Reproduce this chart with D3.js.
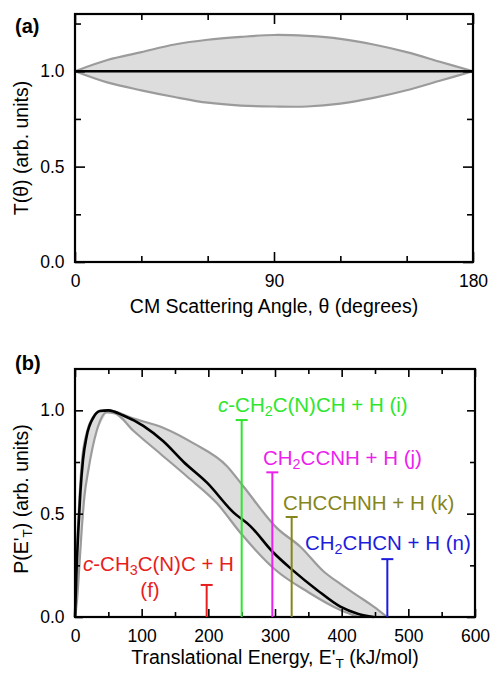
<!doctype html>
<html>
<head>
    <meta charset="utf-8" />
    <title></title>
    <style>
        body { margin: 0; background: #fff; }
        svg text { font-family: "Liberation Sans", Arial, sans-serif; }
    </style>
</head>
<body>
    <div id="chart"></div>

    <script src="https://cdnjs.cloudflare.com/ajax/libs/d3/7.8.5/d3.min.js"></script>
    <script>
        // (a) angular distribution T(theta)
        var thetaGrid = [0, 15, 30, 45, 60, 75, 90, 105, 120, 135, 150, 165, 180];
        var tBest     = [1, 1, 1, 1, 1, 1, 1, 1, 1, 1, 1, 1, 1];
        var tUpper    = [1.0, 1.06, 1.10, 1.14, 1.165, 1.18, 1.19, 1.185, 1.17, 1.14, 1.10, 1.05, 1.0];
        var tLower    = [1.0, 0.94, 0.90, 0.865, 0.835, 0.82, 0.815, 0.815, 0.83, 0.86, 0.90, 0.95, 1.0];
        var thetaTicks = [0, 90, 180];

        // (b) translational energy distribution P(E'T)
        var eBest = [0, 2, 5, 8, 12, 17.5, 27.5, 37.5, 50, 72.5, 102.5, 132.5, 163, 198, 238, 263, 296, 326, 363, 398, 425, 448];
        var pBest = [0, 0.2, 0.42, 0.6, 0.76, 0.875, 0.965, 0.997, 1.0, 0.975, 0.925, 0.85, 0.75, 0.65, 0.505, 0.44, 0.317, 0.228, 0.131, 0.05, 0.015, 0];
        var eUpper = [0, 2, 5, 10, 17.5, 27.5, 37.5, 50, 88, 133, 178, 228, 253, 303, 338, 373, 398, 423, 448, 468];
        var pUpper = [0, 0.25, 0.47, 0.74, 0.89, 0.97, 0.998, 1.0, 0.96, 0.915, 0.84, 0.73, 0.63, 0.43, 0.34, 0.22, 0.16, 0.105, 0.05, 0];
        var eLower = [0, 3, 6, 10, 14, 20, 32.5, 47.5, 60, 88, 128, 168, 213, 250, 300, 350, 398, 425];
        var pLower = [0, 0.08, 0.22, 0.42, 0.58, 0.71, 0.9, 0.99, 0.985, 0.9, 0.79, 0.68, 0.55, 0.40, 0.23, 0.12, 0.034, 0];
        var energyTicks = [0, 100, 200, 300, 400, 500, 600];

        // reaction exoergicities (channel limits)
        var chanName  = ["f", "i", "j", "k", "n"];
        var chanE     = [197.5, 250, 296, 325, 468.5];
        var chanP     = [0.155, 0.953, 0.70, 0.484, 0.28];
        var chanLabel = [
            [["c", "it"], ["-CH"], ["3", "sub"], ["C(N)C + H"]],
            [["c", "it"], ["-CH"], ["2", "sub"], ["C(N)CH + H (i)"]],
            [["CH"], ["2", "sub"], ["CCNH + H (j)"]],
            [["CHCCHNH + H (k)"]],
            [["CH"], ["2", "sub"], ["CHCN + H (n)"]]
        ];

        var chanColor = ["#e81e1e", "#2ee62e", "#ec1fec", "#85851c", "#1c1cdc"];
        // label anchor (left x, baseline y) in px
        var chanLabelPos = [[83, 571], [218, 412], [263, 465], [283, 510], [305, 550]];

        var w = 491, h = 673;
        var tickFont = 17.5, titleFont = 19.5, annFont = 20.5;

        var svg = d3.select("#chart").append("svg").attr("width", w).attr("height", h);
        svg.append("rect").attr("width", w).attr("height", h).attr("fill", "#fff");

        function addText(g, parts, size) {
            parts.forEach(function(p) {
                var t = g.append("tspan").text(p[0]);
                if (p[1] === "it") t.attr("font-style", "italic");
                if (p[1] === "sub") t.attr("font-size", size * 0.7).attr("baseline-shift", "-25%");
            });
        }

        function frame(x, y, majX, minX, majY, minY, fmtX, majLen, minLen) {
            var g = svg.append("g");
            var x0 = x.range()[0], x1 = x.range()[1], y0 = y.range()[0], y1 = y.range()[1];

            var axes = [
                [d3.axisBottom, "translate(0," + y0 + ")", x, majX, minX, true],
                [d3.axisTop, "translate(0," + y1 + ")", x, majX, minX, false],
                [d3.axisLeft, "translate(" + x0 + ",0)", y, majY, minY, true],
                [d3.axisRight, "translate(" + x1 + ",0)", y, majY, minY, false]
            ];
            axes.forEach(function(a) {
                var isY = a[2] === y;
                var fmt = a[5] ? (isY ? d3.format(".1f") : fmtX) : "";
                var ax = a[0](a[2]).tickValues(a[3]).tickSize(-majLen).tickFormat(fmt);
                ax.tickPadding(isY ? 10.5 : 12.5);
                var ga = g.append("g").attr("transform", a[1]).call(ax);
                g.append("g").attr("transform", a[1])
                    .call(a[0](a[2]).tickValues(a[4]).tickSize(-minLen).tickFormat(""));
                ga.selectAll("text").attr("font-size", tickFont).attr("fill", "#000");
            });
            g.selectAll(".domain").remove();
            g.selectAll(".tick line").attr("stroke", "#000").attr("stroke-width", 1.6);
            g.selectAll("text").attr("font-family", "Liberation Sans, Arial, sans-serif");

            svg.append("rect")
                .attr("x", x0).attr("y", y1)
                .attr("width", x1 - x0).attr("height", y0 - y1)
                .attr("fill", "none").attr("stroke", "#000").attr("stroke-width", 2.2);
        }

        // ---------- panel (a) ----------
        var xa = d3.scaleLinear().domain([0, 180]).range([75, 473]);
        var ya = d3.scaleLinear().domain([0, 1.3]).range([262, 14]);

        var bandA = thetaGrid.map(function(t, i) { return { t: t, lo: tLower[i], hi: tUpper[i], m: tBest[i] }; });

        svg.append("path").datum(bandA)
            .attr("fill", "#dddddd")
            .attr("d", d3.area().curve(d3.curveCatmullRom)
                .x(function(d) { return xa(d.t); })
                .y0(function(d) { return ya(d.lo); })
                .y1(function(d) { return ya(d.hi); }));

        ["hi", "lo"].forEach(function(k) {
            svg.append("path").datum(bandA)
                .attr("fill", "none").attr("stroke", "#9b9b9b").attr("stroke-width", 2.2)
                .attr("d", d3.line().curve(d3.curveCatmullRom)
                    .x(function(d) { return xa(d.t); })
                    .y(function(d) { return ya(d[k]); }));
        });

        svg.append("path").datum(bandA)
            .attr("fill", "none").attr("stroke", "#000").attr("stroke-width", 2.6)
            .attr("d", d3.line().x(function(d) { return xa(d.t); }).y(function(d) { return ya(d.m); }));

        frame(xa, ya, thetaTicks, [30, 60, 120, 150], [0, 0.5, 1.0], [0.25, 0.75, 1.25], d3.format("d"), 10, 6);

        svg.append("text").attr("x", 15).attr("y", 33)
            .attr("font-size", 20).attr("font-weight", "bold").text("(a)");

        svg.append("text").attr("x", 274).attr("y", 313)
            .attr("text-anchor", "middle").attr("font-size", titleFont)
            .text("CM Scattering Angle, \u03b8 (degrees)");

        svg.append("text").attr("transform", "translate(28,148) rotate(-90)")
            .attr("text-anchor", "middle").attr("font-size", titleFont)
            .text("T(\u03b8) (arb. units)");

        // ---------- panel (b) ----------
        var xb = d3.scaleLinear().domain([0, 600]).range([75, 475]);
        var yb = d3.scaleLinear().domain([0, 1.2]).range([617, 369]);

        var upPts = eUpper.map(function(e, i) { return [xb(e), yb(pUpper[i])]; });
        var loPts = eLower.map(function(e, i) { return [xb(e), yb(pLower[i])]; });

        svg.append("path")
            .attr("fill", "#dddddd")
            .attr("d", d3.line().curve(d3.curveMonotoneX)(upPts) + "L" +
                d3.line().curve(d3.curveLinear)(loPts.slice().reverse()).slice(1) + "Z");

        [upPts, loPts].forEach(function(pts) {
            svg.append("path")
                .attr("fill", "none").attr("stroke", "#9b9b9b").attr("stroke-width", 2.2)
                .attr("d", d3.line().curve(d3.curveMonotoneX)(pts));
        });

        svg.append("path")
            .attr("fill", "none").attr("stroke", "#000").attr("stroke-width", 2.6)
            .attr("d", d3.line().curve(d3.curveMonotoneX)
                .x(function(d, i) { return xb(d); })
                .y(function(d, i) { return yb(pBest[i]); })(eBest));

        frame(xb, yb, energyTicks, [50, 150, 250, 350, 450, 550], [0, 0.5, 1.0], [0.25, 0.75], d3.format("d"), 8, 5);

        // channel limits
        chanE.forEach(function(e, i) {
            var g = svg.append("g").attr("stroke", chanColor[i]).attr("stroke-width", 2);
            g.append("line").attr("x1", xb(e)).attr("x2", xb(e)).attr("y1", yb(0)).attr("y2", yb(chanP[i]));
            g.append("line").attr("x1", xb(e) - 6).attr("x2", xb(e) + 6).attr("y1", yb(chanP[i])).attr("y2", yb(chanP[i]));

            var t = svg.append("text")
                .attr("x", chanLabelPos[i][0]).attr("y", chanLabelPos[i][1])
                .attr("font-size", annFont).attr("fill", chanColor[i]);
            addText(t, chanLabel[i], annFont);
        });
        svg.append("text").attr("x", 150).attr("y", 597)
            .attr("text-anchor", "middle").attr("font-size", annFont).attr("fill", chanColor[0])
            .text("(" + chanName[0] + ")");

        svg.append("text").attr("x", 15).attr("y", 370)
            .attr("font-size", 20).attr("font-weight", "bold").text("(b)");

        var xt = svg.append("text").attr("x", 275).attr("y", 664)
            .attr("text-anchor", "middle").attr("font-size", titleFont);
        addText(xt, [["Translational Energy, E'"], ["T", "sub"], [" (kJ/mol)"]], titleFont);

        var yt = svg.append("text").attr("transform", "translate(28,499) rotate(-90)")
            .attr("text-anchor", "middle").attr("font-size", titleFont);
        addText(yt, [["P(E'"], ["T", "sub"], [") (arb. units)"]], titleFont);
    </script>
</body>
</html>
